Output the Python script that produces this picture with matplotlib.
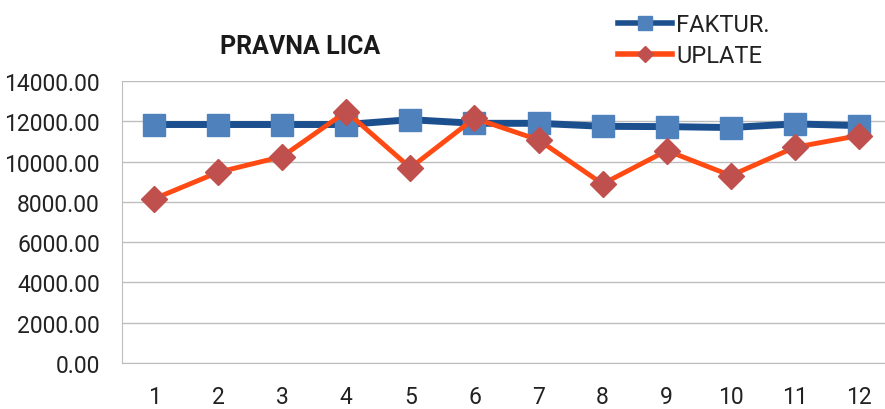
import matplotlib.pyplot as plt
from matplotlib.lines import Line2D

months = [1, 2, 3, 4, 5, 6, 7, 8, 9, 10, 11, 12]
faktur = [11840, 11840, 11840, 11840, 12080, 11900, 11900, 11750, 11735, 11690, 11870, 11785]
uplate = [8150, 9470, 10250, 12480, 9690, 12150, 11075, 8890, 10545, 9305, 10710, 11290]
yticks = [0, 2000, 4000, 6000, 8000, 10000, 12000, 14000]

plt.rcParams['font.family'] = ['Roboto', 'DejaVu Sans']

fig = plt.figure(figsize=(8.85, 4.1), dpi=100)
ax = fig.add_axes([122 / 885, 1 - 364 / 410, 769 / 885, 282 / 410])

ax.plot(months, faktur, color='#1B4F8E', lw=5, marker='s', ms=16,
        mfc='#4F81BD', mec='#4F81BD', zorder=3)
ax.plot(months, uplate, color='#FF4A14', lw=3.5, marker='D', ms=13,
        mfc='#C0504D', mec='#C0504D', zorder=4)

ax.set_xlim(0.5, 12.5)
ax.set_ylim(0, 14000)
ax.set_xticks(months)
ax.set_yticks(yticks)
ax.set_yticklabels(['%.2f' % v for v in yticks])
ax.tick_params(length=0, labelsize=16.5, colors='#222222')
ax.tick_params(axis='x', pad=16)
ax.tick_params(axis='y', pad=16)
ax.grid(axis='y', color='#BDBDBD', lw=1)
ax.set_axisbelow(True)
for s in ['top', 'right']:
    ax.spines[s].set_visible(False)
for s in ['left', 'bottom']:
    ax.spines[s].set_color('#BDBDBD')

fig.text(300 / 885, 1 - 47 / 410, 'PRAVNA LICA', ha='center', va='center',
         fontsize=18, fontweight='bold', color='#1a1a1a')

handles = [
    Line2D([], [], color='#1B4F8E', lw=4, marker='s', ms=10, mfc='#4F81BD', mec='#4F81BD'),
    Line2D([], [], color='#FF4A14', lw=4, marker='D', ms=8, mfc='#C0504D', mec='#C0504D'),
]
fig.legend(handles, ['FAKTUR.', 'UPLATE'], loc='upper left',
           bbox_to_anchor=(604 / 885, 1.0), frameon=False,
           fontsize=17, handlelength=2.3, handletextpad=0.15, labelspacing=0.35,
           borderaxespad=0.2, labelcolor='#222222')

fig.savefig('out.png', dpi=100)
